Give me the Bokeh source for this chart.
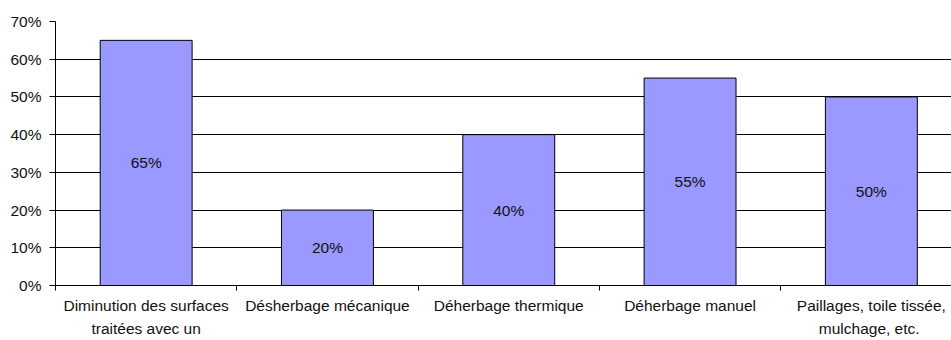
from bokeh.plotting import figure
from bokeh.models import Range1d, FixedTicker, NumeralTickFormatter, ColumnDataSource
from bokeh.core.properties import value
from bokeh.embed import file_html
from bokeh.resources import INLINE

categories = [
    "Diminution des surfaces\ntraitées avec un",
    "Désherbage mécanique",
    "Déherbage thermique",
    "Déherbage manuel",
    "Paillages, toile tissée,\nmulchage,  etc.",
]
values = [0.65, 0.20, 0.40, 0.55, 0.50]
y_ticks = [0.0, 0.1, 0.2, 0.3, 0.4, 0.5, 0.6, 0.7]

xs = list(range(len(categories)))
src = ColumnDataSource(dict(
    x=xs,
    top=values,
    mid=[v / 2 for v in values],
    lab=[f"{round(v * 100)}%" for v in values],
))

FONT = "Liberation Sans"

p = figure(width=951, height=340, output_backend="svg", toolbar_location=None,
           x_range=Range1d(-0.5, 4.442), y_range=Range1d(0, 0.7),
           min_border_left=55, min_border_right=0, min_border_top=21, min_border_bottom=54)
p.outline_line_color = None
p.background_fill_color = "white"
p.border_fill_color = "white"

p.vbar(x="x", top="top", width=0.507, source=src, fill_color="#9999FF",
       line_color="#000000", line_width=1)
p.text(x="x", y="mid", text="lab", source=src, text_align="center",
       text_baseline="middle", text_font=value(FONT), text_font_size="15.5px",
       text_color="#111111")

# y axis
p.yaxis.ticker = FixedTicker(ticks=y_ticks)
p.yaxis.formatter = NumeralTickFormatter(format="0%")
p.yaxis.major_label_text_font = FONT
p.yaxis.major_label_text_font_size = "15.5px"
p.yaxis.major_label_text_color = "#111111"
p.yaxis.major_tick_out = 6
p.yaxis.major_tick_in = 0
p.yaxis.minor_tick_line_color = None
p.yaxis.major_label_standoff = 8
p.yaxis.axis_line_color = "black"
p.yaxis.major_tick_line_color = "black"

# x axis
p.xaxis.ticker = FixedTicker(ticks=xs, minor_ticks=[i - 0.5 for i in xs] + [xs[-1] + 0.5])
p.xaxis.major_label_overrides = {i: c for i, c in zip(xs, categories)}
p.xaxis.major_tick_line_color = None
p.xaxis.minor_tick_line_color = "black"
p.xaxis.minor_tick_out = 5
p.xaxis.minor_tick_in = 0
p.xaxis.major_label_text_font = FONT
p.xaxis.major_label_text_font_size = "15.5px"
p.xaxis.major_label_text_line_height = 1.4
p.xaxis.major_label_text_color = "#111111"
p.xaxis.major_label_standoff = 5
p.xaxis.axis_line_color = "black"

p.xgrid.grid_line_color = None
p.ygrid.ticker = FixedTicker(ticks=y_ticks)
p.ygrid.grid_line_color = "black"
p.ygrid.grid_line_width = 1

open("out.html", "w").write(file_html(p, INLINE))
